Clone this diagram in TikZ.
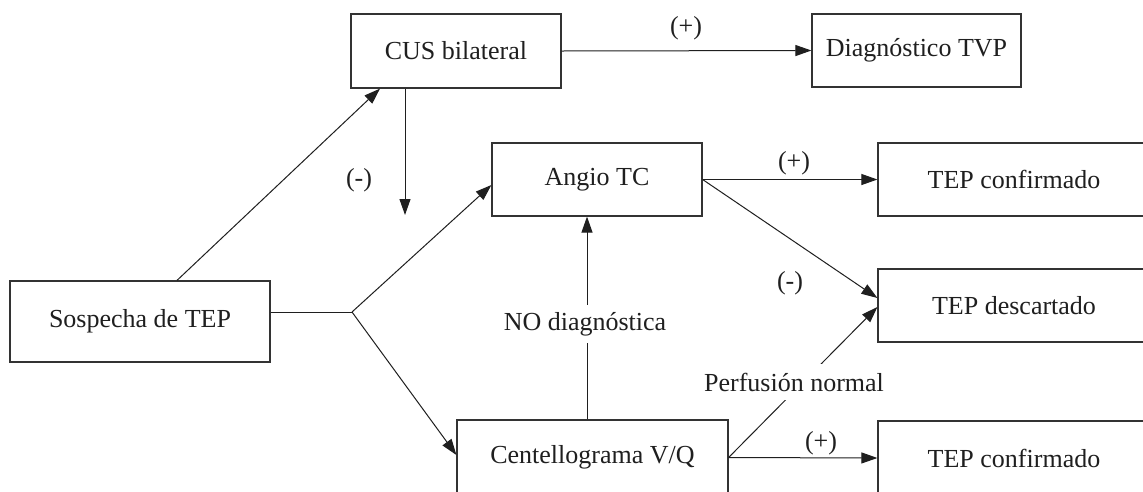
\documentclass[tikz,border=0pt]{standalone}
\usepackage{fontspec}
\setmainfont{Liberation Serif}
\usetikzlibrary{arrows.meta,calc}
\begin{document}
\begin{tikzpicture}[x=1pt,y=-1pt,
  txt/.style={font=\fontsize{26}{30}\selectfont, text=black!88},
  box/.style={txt, draw=black!80, line width=1.2pt, inner sep=0pt, fill=white},
  conn/.style={draw=black!88, line width=1pt, -{Triangle[length=16pt,width=11pt]}},
  plainline/.style={draw=black!88, line width=1pt},
  lbl/.style={txt, inner sep=0pt},
  gaplbl/.style={txt, fill=white, inner xsep=2pt, inner ysep=9pt},
]
\useasboundingbox (0,0) rectangle (1143,491);
\clip (0,0) rectangle (1143,491);
\fill[white] (0,0) rectangle (1143,491);

% boxes
\node[box, minimum width=260pt, minimum height=81pt] (sosp) at (140,321.5) {Sospecha de TEP};
\node[box, minimum width=210pt, minimum height=74pt] (cus) at (456,51) {CUS bilateral};
\node[box, minimum width=209pt, minimum height=73pt] (diag) at (916.5,50.5) {Diagnóstico TVP};
\node[box, minimum width=210pt, minimum height=73pt] (angio) at (597,179.5) {Angio TC};
\node[box, minimum width=272pt, minimum height=73pt] (tc1) at (1014,179.5) {TEP confirmado};
\node[box, minimum width=272pt, minimum height=73pt] (tdesc) at (1014,305.5) {TEP descartado};
\node[box, minimum width=271pt, minimum height=75pt] (cent) at (592.5,457.5) {Centellograma V/Q};
\node[box, minimum width=272pt, minimum height=74pt] (tc2) at (1014,458) {TEP confirmado};

% helper coordinates
\coordinate (br) at (352,312);
\coordinate (cusend) at (405,215);
\coordinate (vq) at ([xshift=-5.5pt]cent.north);

% connectors
\draw[conn] ([xshift=37pt]sosp.north) -- ([xshift=-76pt]cus.south);
\draw[plainline] ([yshift=9.5pt]sosp.east) -- (br);
\draw[conn] (br) -- ([yshift=-5.5pt]angio.west);
\draw[conn] (br) -- ([yshift=2.5pt]cent.west);
\draw[conn] (cusend |- cus.south) -- (cusend);
\draw[conn] (cus.east) -- (diag.west);
\draw[conn] (angio.east) -- (tc1.west);
\draw[conn] (angio.east) -- ([yshift=7.5pt]tdesc.west);
\draw[conn] (cent.east) -- (tc2.west);
\draw[conn] (cent.east) -- ([yshift=-1.5pt]tdesc.west);
\draw[conn] (vq) -- (vq |- angio.south);

% labels
\node[lbl] (lm1) at (359,180) {(-)};
\node[lbl] (lp1) at (686,28) {(+)};
\node[lbl] (lp2) at (794,163) {(+)};
\node[lbl] (lm2) at (790,283) {(-)};
\node[lbl] (lp3) at (821,443) {(+)};
\node[gaplbl] (perf) at (794,382) {Perfusión normal};
\node[gaplbl, inner ysep=7pt] (nodiag) at (585,324) {NO diagnóstica};
\end{tikzpicture}
\end{document}
